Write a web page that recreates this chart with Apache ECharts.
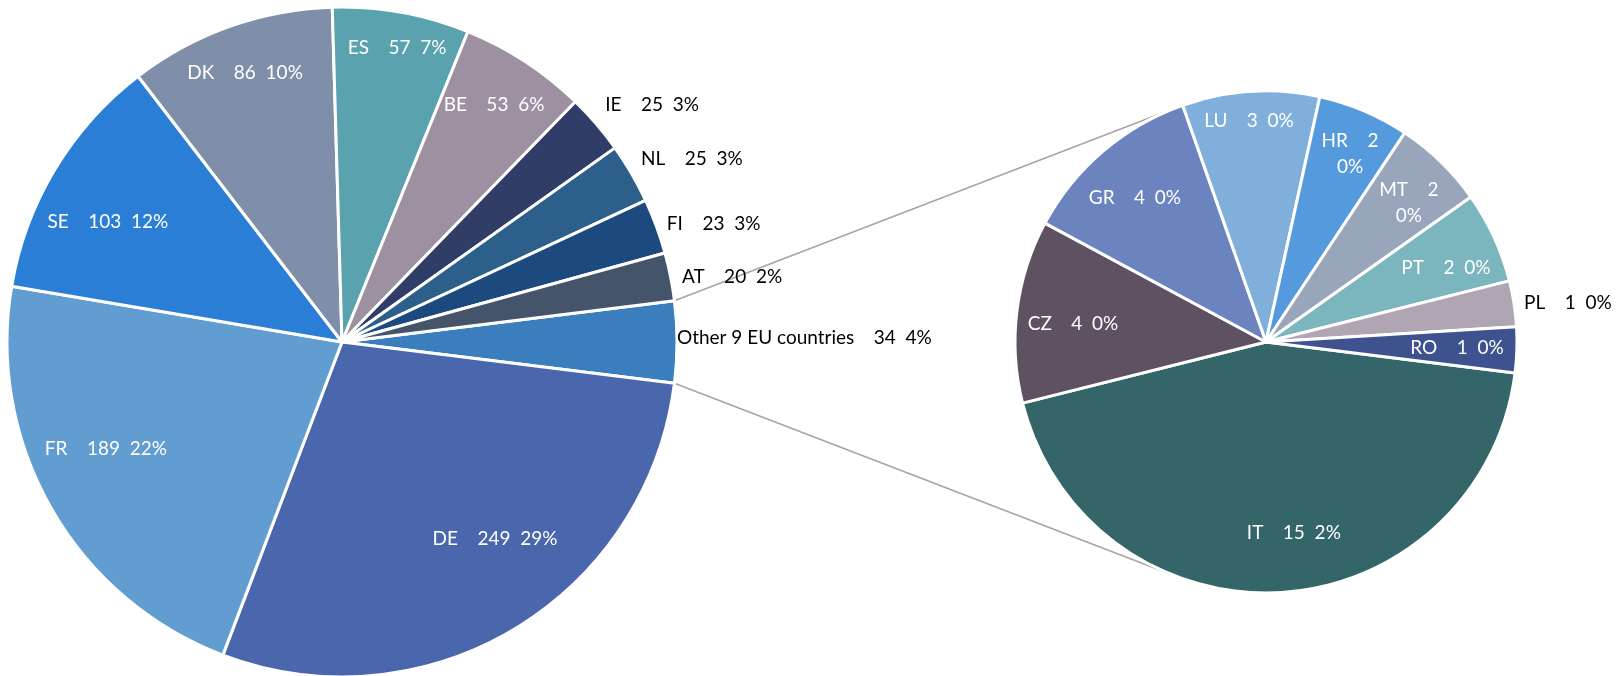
<!DOCTYPE html>
<html><head><meta charset="utf-8">
<script src="https://cdn.jsdelivr.net/npm/echarts@6/dist/echarts.min.js"></script>
<style>html,body{margin:0;padding:0;background:#fff}#c{width:1616px;height:676px}</style>
</head><body><div id="c"></div>
<script>
// ---- data ----
const mainNames  = ['Other 9 EU countries','DE','FR','SE','DK','ES','BE','IE','NL','FI','AT'];
const mainValues = [34,249,189,103,86,57,53,25,25,23,20];
const subNames   = ['IT','CZ','GR','LU','HR','MT','PT','PL','RO'];
const subValues  = [15,4,4,3,2,2,2,1,1];

// ---- styles ----
const mainColors = ['#3A7EBD','#4A66AC','#629DD1','#2B7ED6','#7F8FA9','#5AA2AE','#9D90A0','#2F3D67','#2C5F8A','#1D4A7E','#44546A'];
const subColors  = ['#346568','#5E5262','#6B83BE','#80AFDB','#549ADD','#98A5BA','#7BB5BD','#B0A5B3','#3E5290'];
// label placement: [angle deg, radius fraction, align]
const mainLabelAt = [[0.7,1.0,'left'],[-52.2,0.745,'center'],[-155.6,0.774,'center'],[152.9,0.785,'center'],[109.8,0.854,'center'],[79.4,0.893,'center'],[57.3,0.84,'center'],[42.0,1.057,'left'],[31.5,1.047,'left'],[20.0,1.032,'left'],[10.8,1.033,'left']];
const subLabelAt  = [[-81.7,0.769,'center'],[174.7,0.772,'center'],[132.3,0.776,'center'],[94.4,0.883,'center'],[65.9,0.82,'center'],[44.2,0.794,'center'],[22.4,0.775,'center'],[8.6,1.04,'left'],[-1.8,0.761,'center']];
const wrapNames = ['HR','MT'];

const MAIN_C = [342,342], MAIN_R = 335;
const SUB_C = [1266,342], SUB_R = 251;
const FONT = 'Lato';
const FS = 19;
const GAP1 = '    ', GAP2 = '  ';

const total = mainValues.reduce((a,b)=>a+b,0);
const pct = v => Math.round(v/total*100) + '%';
const otherHalf = mainValues[0]/total*180;

function fmt(name, v){
  if (wrapNames.indexOf(name) >= 0) return name + GAP1 + v + '\n' + pct(v);
  return name + GAP1 + v + GAP2 + pct(v);
}
function mkData(names, values, colors, spec){
  return names.map((n,i)=>({
    name:n, value:values[i],
    itemStyle:{color:colors[i]},
    label:{color: spec[i][2]==='left' ? '#000' : '#fff'}
  }));
}
function mkLayout(C, R, spec){
  return function(p){
    const s = spec[p.dataIndex];
    const a = s[0]*Math.PI/180;
    return {x: C[0] + R*s[1]*Math.cos(a), y: C[1] - R*s[1]*Math.sin(a), align: s[2], verticalAlign:'middle'};
  };
}
function tangent(P, C, r, sign){
  const dx = P[0]-C[0], dy = -(P[1]-C[1]);
  const d = Math.hypot(dx,dy);
  const t = Math.atan2(dy,dx) + sign*Math.acos(r/d);
  return [C[0] + r*Math.cos(t), C[1] - r*Math.sin(t)];
}
const ha = otherHalf*Math.PI/180;
const P1 = [MAIN_C[0] + MAIN_R*Math.cos(ha), MAIN_C[1] - MAIN_R*Math.sin(ha)];
const P2 = [MAIN_C[0] + MAIN_R*Math.cos(ha), MAIN_C[1] + MAIN_R*Math.sin(ha)];
const T1 = tangent(P1, SUB_C, SUB_R, -1);
const T2 = tangent(P2, SUB_C, SUB_R, +1);

const labelBase = {show:true, position:'inside', fontFamily:FONT, fontSize:FS, lineHeight:26, align:'center'};
const chart = echarts.init(document.getElementById('c'));
chart.setOption({
  animation:false,
  backgroundColor:'#fff',
  graphic:[
    {type:'line', z:0, shape:{x1:P1[0],y1:P1[1],x2:T1[0],y2:T1[1]}, style:{stroke:'#A5A5A5', lineWidth:1.5}},
    {type:'line', z:0, shape:{x1:P2[0],y1:P2[1],x2:T2[0],y2:T2[1]}, style:{stroke:'#A5A5A5', lineWidth:1.5}}
  ],
  series:[
    {type:'pie', z:5, center:MAIN_C, radius:MAIN_R, startAngle:otherHalf, clockwise:true,
     avoidLabelOverlap:false, silent:true, emphasis:{disabled:true},
     itemStyle:{borderColor:'#fff', borderWidth:3},
     label:Object.assign({formatter:p=>fmt(p.name,p.value)}, labelBase),
     labelLine:{show:false},
     labelLayout: mkLayout(MAIN_C, MAIN_R, mainLabelAt),
     data: mkData(mainNames, mainValues, mainColors, mainLabelAt)},
    {type:'pie', z:5, center:SUB_C, radius:SUB_R, startAngle:-otherHalf, clockwise:true,
     avoidLabelOverlap:false, silent:true, emphasis:{disabled:true},
     itemStyle:{borderColor:'#fff', borderWidth:3},
     label:Object.assign({formatter:p=>fmt(p.name,p.value)}, labelBase),
     labelLine:{show:false},
     labelLayout: mkLayout(SUB_C, SUB_R, subLabelAt),
     data: mkData(subNames, subValues, subColors, subLabelAt)}
  ]
});
</script></body></html>
